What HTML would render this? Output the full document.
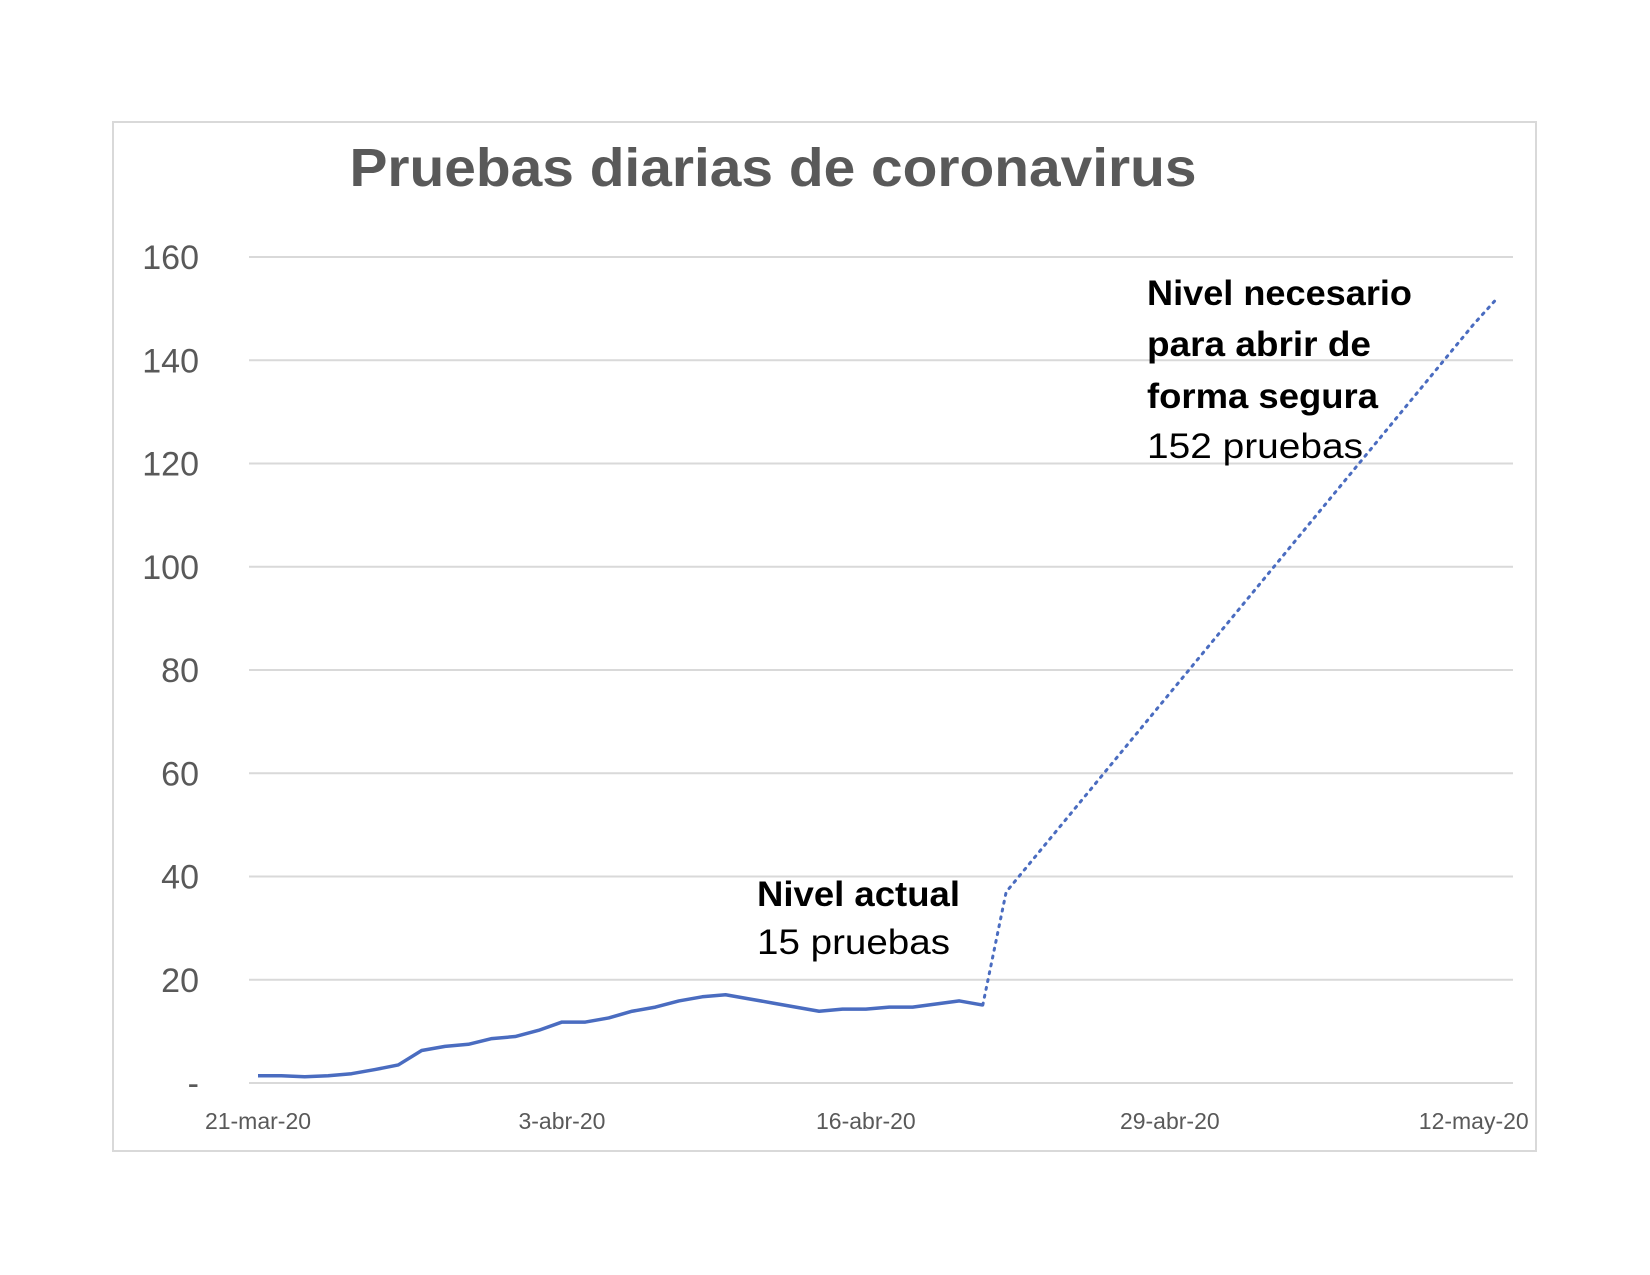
<!DOCTYPE html>
<html><head><meta charset="utf-8"><style>html,body{margin:0;padding:0;background:#fff}svg{display:block}</style></head>
<body>
<svg id="chart" width="1650" height="1275" viewBox="0 0 1650 1275" xmlns="http://www.w3.org/2000/svg" font-family="'Liberation Sans', sans-serif">
<rect x="113" y="122" width="1423" height="1029" fill="#fff" stroke="#d9d9d9" stroke-width="2"/>
<text x="773" y="186" text-anchor="middle" font-size="54" font-weight="bold" fill="#595959" textLength="847" lengthAdjust="spacingAndGlyphs">Pruebas diarias de coronavirus</text>
<g id="grid"></g>
<g id="yaxis"></g>
<g id="xaxis"></g>
<g id="series"></g>
<g font-size="35" fill="#000">
<text x="757" y="906" font-weight="bold" textLength="203" lengthAdjust="spacingAndGlyphs">Nivel actual</text>
<text x="757" y="954" textLength="193" lengthAdjust="spacingAndGlyphs">15 pruebas</text>
</g>
<g font-size="35" fill="#000">
<text x="1147" y="305" font-weight="bold" textLength="265" lengthAdjust="spacingAndGlyphs">Nivel necesario</text>
<text x="1147" y="356" font-weight="bold" textLength="224" lengthAdjust="spacingAndGlyphs">para abrir de</text>
<text x="1147" y="408" font-weight="bold" textLength="231" lengthAdjust="spacingAndGlyphs">forma segura</text>
<text x="1147" y="458" textLength="216" lengthAdjust="spacingAndGlyphs">152 pruebas</text>
</g>
</svg>
<script>
const yTicks = [0, 20, 40, 60, 80, 100, 120, 140, 160];
const yTickLabels = ["-", "20", "40", "60", "80", "100", "120", "140", "160"];
const xTickIndex = [0, 13, 26, 39, 52];
const xTickLabels = ["21-mar-20", "3-abr-20", "16-abr-20", "29-abr-20", "12-may-20"];
const actualValues = [1.4,1.4,1.2,1.4,1.8,2.6,3.5,6.3,7.1,7.5,8.6,9.0,10.2,11.8,11.8,12.6,13.9,14.7,15.9,16.7,17.1,16.3,15.5,14.7,13.9,14.3,14.3,14.7,14.7,15.3,15.9,15.1];
const projectedValues = [15.1,37,42.5,48,53.5,59,64.5,70,75.5,81,86.5,92,97.5,103,108.5,114,119.5,125,130.5,136,141.5,147,152];
const projectedStart = 31;

const NS = "http://www.w3.org/2000/svg";
const X0 = 258, DX = 23.38, Y0 = 1083, YSCALE = 826 / 160;
const PL = 249, PR = 1513;
function xs(i){ return X0 + i * DX; }
function ys(v){ return Y0 - v * YSCALE; }
function mk(tag, attrs, parent){ const e = document.createElementNS(NS, tag); for (const k in attrs) e.setAttribute(k, attrs[k]); parent.appendChild(e); return e; }

const grid = document.getElementById('grid'), yaxis = document.getElementById('yaxis'), xaxis = document.getElementById('xaxis'), series = document.getElementById('series');
yTicks.forEach((t, i) => {
  const l = mk('line', {x1: PL, x2: PR, y1: ys(t), y2: ys(t), stroke: '#d9d9d9', 'stroke-width': 2}, grid);
  
  
  const tx = mk('text', {x: 199, y: ys(t) + 12, 'text-anchor': 'end', 'font-size': 34, fill: '#595959'}, yaxis);
  tx.textContent = yTickLabels[i];
  
  
});
xTickIndex.forEach((idx, i) => {
  const tx = mk('text', {x: xs(idx), y: 1129, 'text-anchor': 'middle', 'font-size': 23, fill: '#595959'}, xaxis);
  tx.textContent = xTickLabels[i];
  
  
});
const p1 = mk('polyline', {points: actualValues.map((v, i) => xs(i) + ',' + ys(v)).join(' '), fill: 'none', stroke: '#4a6cc0', 'stroke-width': 3.5, 'stroke-linejoin': 'round'}, series);


const p2 = mk('polyline', {points: projectedValues.map((v, i) => xs(projectedStart + i) + ',' + ys(v)).join(' '), fill: 'none', stroke: '#4a6cc0', 'stroke-width': 3, 'stroke-dasharray': '2 6', 'stroke-linecap': 'round'}, series);


</script>
</body></html>
